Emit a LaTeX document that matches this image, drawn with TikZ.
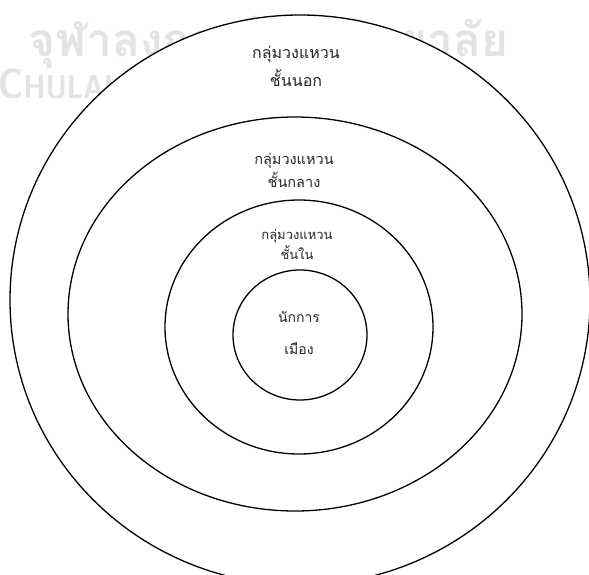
\documentclass[tikz,border=0pt]{standalone}
\usepackage{fontspec}
\newfontfamily\thaifont[Script=Thai]{Loma}
\usetikzlibrary{shapes.geometric}

\begin{document}
\begin{tikzpicture}[x=1pt, y=-1pt,
        ring/.style={draw, ellipse, fill=white, line width=1.3pt, inner sep=0pt},
        ringtext/.style={align=center, text=black!85, inner sep=0pt},
        wmark/.style={text=gray!22, inner sep=0pt}
    ]
        \useasboundingbox (0,0) rectangle (589,574);
        \clip (0,0) rectangle (589,574);
        \fill[white] (0,0) rectangle (589,574);

        % watermark behind the rings
        \node[wmark, font=\thaifont\bfseries\fontsize{46}{46}\selectfont, anchor=west] (wmth) at (28,42) {จุฬาลงกรณ์มหาวิทยาลัย};
        \node[wmark, font=\sffamily\bfseries\fontsize{42}{42}\selectfont, anchor=west, xscale=0.85] (wmen) at (-2,84) {C\fontsize{33}{33}\selectfont HULALONGKORN UNIVERSITY};

        % rings, outer to inner
        \node[ring, minimum width=580pt, minimum height=570pt] (outer) at (300,300) {};
        \node[ring, minimum width=454pt, minimum height=394pt] (middle) at (295,314) {};
        \node[ring, minimum width=268pt, minimum height=254pt] (inner) at (299,327) {};
        \node[ring, minimum width=134pt, minimum height=130pt] (core) at (300,335) {};

        \node[ringtext, font=\thaifont\fontsize{16}{28}\selectfont] (touter) at (296,66) {กลุ่มวงแหวน\\ชั้นนอก};
        \node[ringtext, font=\thaifont\fontsize{14.5}{23}\selectfont] (tmiddle) at (294,170) {กลุ่มวงแหวน\\ชั้นกลาง};
        \node[ringtext, font=\thaifont\fontsize{13}{20}\selectfont] (tinner) at (297,244) {กลุ่มวงแหวน\\ชั้นใน};
        \node[ringtext, font=\thaifont\fontsize{14}{32}\selectfont] (tcore) at (299,333) {นักการ\\เมือง};
    \end{tikzpicture}
\end{document}
